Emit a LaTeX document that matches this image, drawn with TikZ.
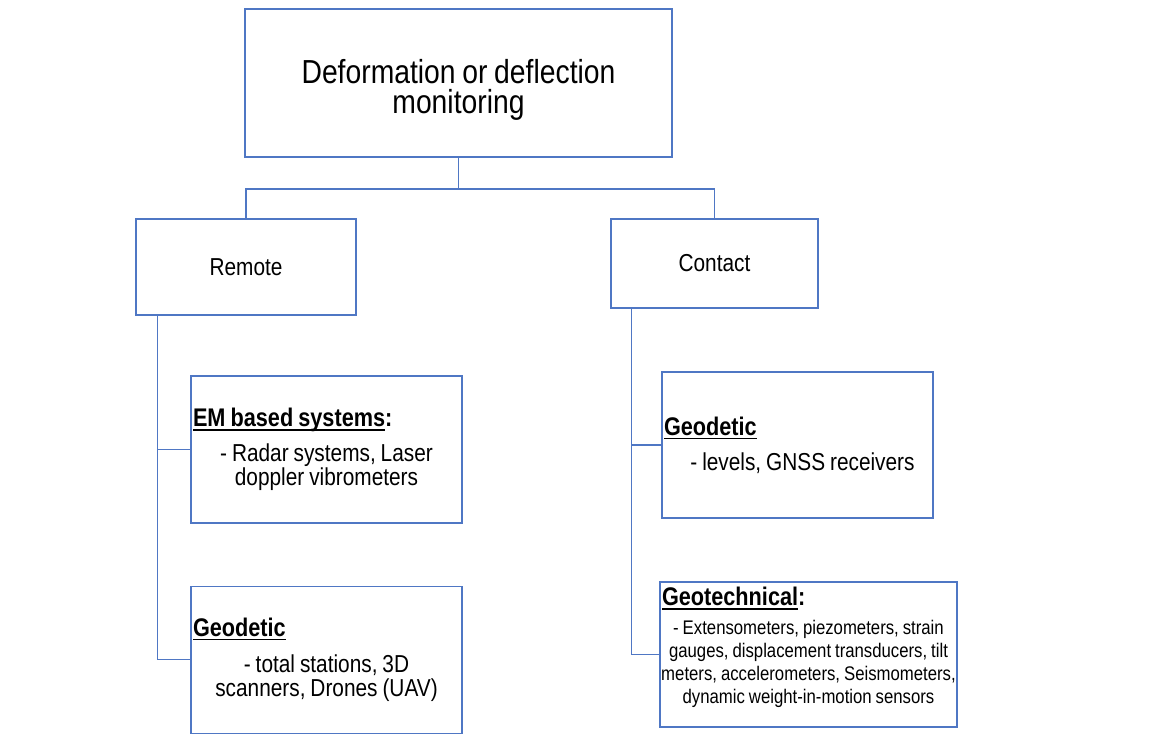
\documentclass[tikz,border=0pt]{standalone}
\usepackage{fontspec}
\setmainfont{Liberation Sans}[FakeStretch=0.85, WordSpace=0.85]
\usetikzlibrary{positioning}
\definecolor{linkblue}{RGB}{79,119,196}
\newsavebox\hdrbox
\newcommand\hdr[2][]{{\fontsize{25.5}{24}\selectfont\bfseries
  \sbox\hdrbox{#2}\usebox\hdrbox\llap{\rule[-3.8pt]{\wd\hdrbox}{1.3pt}}#1}}
\newcommand\plainspaces{\spaceskip=0pt\xspaceskip=0pt}

\begin{document}
\begin{tikzpicture}[x=1pt, y=-1pt,
  font=\fontsize{24.5}{24}\selectfont,
  box/.style={draw=linkblue, line width=1.2pt, fill=white},
  leaf/.style={box, align=left, inner xsep=2pt, minimum width=271pt, text width=267pt,
               execute at begin node=\plainspaces},
  link/.style={draw=linkblue, line width=1.2pt}]
  \useasboundingbox (0,0) rectangle (1164,734);
  \node[box, minimum width=427pt, minimum height=148pt, align=center,
        font=\fontsize{33.3}{30}\selectfont] (top) at (458.5,83)
    {\rule{0pt}{38pt}Deformation or deflection\\monitoring};
  \node[box, minimum width=220pt, minimum height=96pt] (remote) at (246,267) {Remote};
  \node[box, minimum width=207pt, minimum height=89pt] (contact) at (714.5,263.5) {Contact};
  \node[leaf, minimum height=147pt] (em) at (326.5,449.5) {\hdr[:]{EM based systems}\par\vspace{11pt}
    {\centering - Radar systems, Laser\\doppler vibrometers\par}};
  \node[leaf, minimum height=147pt, below=62pt of em] (rgeo) {\hdr{Geodetic}\par\vspace{12pt}
    {\centering - total stations, 3D\\scanners, Drones (UAV)\par}};
  \node[leaf, minimum height=146pt] (cgeo) at (797.5,445) {\hdr{Geodetic}\par\vspace{11pt}
    {\centering\hspace*{10pt}- levels, GNSS receivers\par}};
  \node[leaf, inner xsep=0pt, minimum width=297pt, text width=297pt, minimum height=145pt] (geotech) at (808.5,654.5)
    {\hspace*{2pt}\hdr[:]{Geotechnical}\par\vspace{6pt}
    {\fontsize{19.7}{23}\selectfont\centering - Extensometers, piezometers, strain\\gauges, displacement transducers, tilt\\meters, accelerometers, Seismometers,\\dynamic weight-in-motion sensors\rule[-18pt]{0pt}{18pt}\par}};
  \coordinate (split) at (458.5,189);
  \coordinate (rspine) at ([xshift=22pt]remote.south west);
  \coordinate (cspine) at ([xshift=21pt]contact.south west);
  \draw[link] (top.south) -- (split);
  \draw[link] (remote.north) |- (split) -| (contact.north);
  \draw[link] (rspine) |- (em.west);
  \draw[link] (rspine) |- (rgeo.west);
  \draw[link] (cspine) |- (cgeo.west);
  \draw[link] (cspine) |- (geotech.west);
\end{tikzpicture}
\end{document}
